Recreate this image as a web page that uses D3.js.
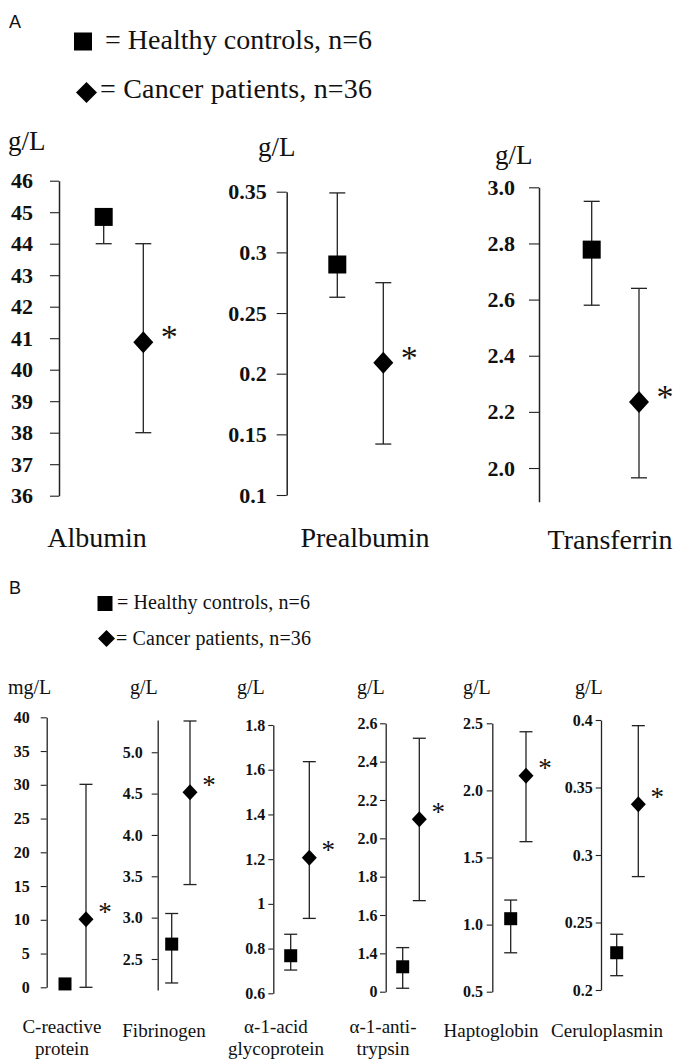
<!DOCTYPE html>
<html>
<head>
<meta charset="utf-8" />
<title>Serum proteins: healthy controls vs cancer patients</title>
<style>
  body { margin: 0; background: #fff; }
  svg text { font-family: "Liberation Serif", "Times New Roman", serif; fill: #111; }
  svg text.letter { font-family: "Liberation Sans", Arial, sans-serif; }
</style>
</head>
<body>
<svg id="fig" width="679" height="1059"></svg>

<script src="https://d3js.org/d3.v7.min.js"></script>
<script>
// ---------- panel A data ----------
var namesA = [["Albumin"], ["Prealbumin"], ["Transferrin"]];
var unitsA = ["g/L", "g/L", "g/L"];
var ctrlMeanA = [44.85, 0.290, 2.778];
var ctrlLowA  = [44.0, 0.263, 2.58];
var ctrlHighA = [45.1, 0.349, 2.95];
var canMeanA  = [40.87, 0.209, 2.235];
var canLowA   = [38.0, 0.142, 1.965];
var canHighA  = [44.0, 0.275, 2.64];
var tickValsA = [
  [36, 37, 38, 39, 40, 41, 42, 43, 44, 45, 46],
  [0.1, 0.15, 0.2, 0.25, 0.3, 0.35],
  [2.0, 2.2, 2.4, 2.6, 2.8, 3.0]
];
var tickLabsA = [
  ["36", "37", "38", "39", "40", "41", "42", "43", "44", "45", "46"],
  ["0.1", "0.15", "0.2", "0.25", "0.3", "0.35"],
  ["2.0", "2.2", "2.4", "2.6", "2.8", "3.0"]
];

// ---------- panel B data ----------
var namesB = [["C-reactive", "protein"], ["Fibrinogen"], ["\u03b1-1-acid", "glycoprotein"],
              ["\u03b1-1-anti-", "trypsin"], ["Haptoglobin"], ["Ceruloplasmin"]];
var unitsB = ["mg/L", "g/L", "g/L", "g/L", "g/L", "g/L"];
var ctrlMeanB = [0.5, 2.68, 0.768, 1.33, 1.044, 0.2276];
var ctrlLowB  = [null, 2.21, 0.704, 1.218, 0.79, 0.2106];
var ctrlHighB = [null, 3.05, 0.864, 1.43, 1.183, 0.2413];
var canMeanB  = [10.1, 4.516, 1.206, 2.099, 2.11, 0.3376];
var canLowB   = [0, 3.40, 0.935, 1.675, 1.618, 0.284];
var canHighB  = [30.07, 5.378, 1.636, 2.522, 2.437, 0.3958];
var tickValsB = [
  [0, 5, 10, 15, 20, 25, 30, 35, 40],
  [2.5, 3.0, 3.5, 4.0, 4.5, 5.0],
  [0.6, 0.8, 1.0, 1.2, 1.4, 1.6, 1.8],
  [1.2, 1.4, 1.6, 1.8, 2.0, 2.2, 2.4, 2.6],
  [0.5, 1.0, 1.5, 2.0, 2.5],
  [0.2, 0.25, 0.3, 0.35, 0.4]
];
var tickLabsB = [
  ["0", "5", "10", "15", "20", "25", "30", "35", "40"],
  ["2.5", "3.0", "3.5", "4.0", "4.5", "5.0"],
  ["0.6", "0.8", "1", "1.2", "1.4", "1.6", "1.8"],
  ["0", "1.4", "1.6", "1.8", "2.0", "2.2", "2.4", "2.6"],
  ["0.5", "1.0", "1.5", "2.0", "2.5"],
  ["0.2", "0.25", "0.3", "0.35", "0.4"]
];

var legendLabels = ["= Healthy controls, n=6", "= Cancer patients, n=36"];

// ---------- layout ----------
var layoutA = [
  {x: 59,    dom: [36, 46],     rng: [495.7, 180.7], tick: 9,  pad: 17, cdx: 44.7, pdx: 84.3, unitX: 8,   unitY: 150, nameX: 97,  nameY: 547},
  {x: 286.7, dom: [0.1, 0.35],  rng: [495, 191.7],   tick: 10, pad: 10, cdx: 50.6, pdx: 96.6, unitX: 258, unitY: 156, nameX: 365, nameY: 547},
  {x: 539,   dom: [1.88, 3.0],  rng: [501.7, 187.3], tick: 10, pad: 14, cdx: 52.7, pdx: 100,  unitX: 495, unitY: 164, nameX: 610, nameY: 549}
];
var layoutB = [
  {x: 46.7,  dom: [0, 40],       rng: [987.3, 717.3], tick: 6,   pad: 11,  cdx: 18.3, pdx: 39.3, unitX: 8,   nameX: 62},
  {x: 157.7, dom: [2.125, 5.39], rng: [990, 720],     tick: 6,   pad: 9,   cdx: 14,   pdx: 32.3, unitX: 130, nameX: 164},
  {x: 273.3, dom: [0.6, 1.8],    rng: [993.3, 725],   tick: 5,   pad: 3,   cdx: 17.4, pdx: 36,   unitX: 237, nameX: 276},
  {x: 385.7, dom: [1.2, 2.6],    rng: [991.7, 723.3], tick: 5.7, pad: 2.5, cdx: 17,   pdx: 33.6, unitX: 357, nameX: 383},
  {x: 492.3, dom: [0.5, 2.5],    rng: [991.7, 723.3], tick: 5.6, pad: 3.7, cdx: 18.4, pdx: 33.7, unitX: 463, nameX: 491},
  {x: 601,   dom: [0.2, 0.4],    rng: [990, 720],     tick: 5.3, pad: 3,   cdx: 15.7, pdx: 37.3, unitX: 575, nameX: 607}
];

var styleA = {sq: 18, dw: 20, dh: 22, cap: 16, tickFont: 22, unitFont: 27, nameFont: 28, star: 34, sdx: 26, sdy: -10, axisW: 1.5};
var styleB = {sq: 13, dw: 15, dh: 16, cap: 13, tickFont: 16, unitFont: 20, nameFont: 19, star: 27, sdx: 19, sdy: -11, axisW: 1.3};

var svg = d3.select("#fig");

function diamond(w, h) {
  return "M0," + (-h / 2) + "L" + (w / 2) + ",0L0," + (h / 2) + "L" + (-w / 2) + ",0Z";
}

function errBar(g, x, y, lo, hi, cap) {
  if (lo == null || hi == null) return;
  g.append("line").attr("x1", x).attr("x2", x).attr("y1", y(lo)).attr("y2", y(hi));
  g.append("line").attr("x1", x - cap / 2).attr("x2", x + cap / 2).attr("y1", y(lo)).attr("y2", y(lo));
  g.append("line").attr("x1", x - cap / 2).attr("x2", x + cap / 2).attr("y1", y(hi)).attr("y2", y(hi));
}

function drawChart(L, st, d) {
  var y = d3.scaleLinear().domain(L.dom).range(L.rng);
  var axis = d3.axisLeft(y)
    .tickValues(d.ticks)
    .tickFormat(function(v, i) { return d.labels[i]; })
    .tickSizeInner(L.tick)
    .tickSizeOuter(0)
    .tickPadding(L.pad);

  var ax = svg.append("g").attr("transform", "translate(" + L.x + ",0)").call(axis);
  ax.select(".domain").attr("stroke", "#222").attr("stroke-width", st.axisW);
  ax.selectAll(".tick line").attr("stroke", "#222").attr("stroke-width", 1.1);
  ax.selectAll(".tick text")
    .attr("fill", "#111")
    .style("font-family", "'Liberation Serif', 'Times New Roman', serif")
    .style("font-weight", "bold")
    .style("font-size", st.tickFont + "px");

  var g = svg.append("g").attr("stroke", "#222").attr("stroke-width", 1.3);
  var cx = L.x + L.cdx, px = L.x + L.pdx;
  errBar(g, cx, y, d.cLo, d.cHi, st.cap);
  errBar(g, px, y, d.pLo, d.pHi, st.cap);

  svg.append("rect")
    .attr("x", cx - st.sq / 2).attr("y", y(d.cMean) - st.sq / 2)
    .attr("width", st.sq).attr("height", st.sq)
    .attr("fill", "#000");
  svg.append("path")
    .attr("transform", "translate(" + px + "," + y(d.pMean) + ")")
    .attr("d", diamond(st.dw, st.dh))
    .attr("fill", "#000");

  // significance mark
  svg.append("text")
    .attr("x", px + st.sdx).attr("y", y(d.pMean) + st.sdy + st.star * 0.47)
    .attr("text-anchor", "middle")
    .style("font-size", st.star + "px")
    .text("*");
}

// stretch a legend line to the width it has in the figure
function fitWidth(sel, w) {
  var node = sel.node();
  var len = node.getComputedTextLength();
  var n = node.textContent.length;
  if (len > 0 && n > 1) sel.style("letter-spacing", ((w - len) / (n - 1)) + "px");
}

// panel letters + legends
function legend(letterY, items, st) {
  svg.append("text").attr("class", "letter")
    .attr("x", 9).attr("y", letterY.letter)
    .style("font-size", st.letter + "px").text(letterY.name);
  svg.append("rect")
    .attr("x", items.sqX - st.sq / 2).attr("y", items.sqY - st.sq / 2)
    .attr("width", st.sq).attr("height", st.sq).attr("fill", "#000");
  var t1 = svg.append("text").attr("x", items.t1X).attr("y", items.t1Y)
    .style("font-size", st.font + "px").text(legendLabels[0]);
  fitWidth(t1, items.w1);
  svg.append("path")
    .attr("transform", "translate(" + items.dX + "," + items.dY + ")")
    .attr("d", diamond(st.d, st.d)).attr("fill", "#000");
  var t2 = svg.append("text").attr("x", items.t2X).attr("y", items.t2Y)
    .style("font-size", st.font + "px").text(legendLabels[1]);
  fitWidth(t2, items.w2);
}

legend({letter: 28, name: "A"},
       {sqX: 83, sqY: 41.5, t1X: 105, t1Y: 49, w1: 267, dX: 86.5, dY: 92.5, t2X: 100, t2Y: 98, w2: 272},
       {letter: 18, sq: 18, d: 21, font: 28});
legend({letter: 594, name: "B"},
       {sqX: 105, sqY: 603.5, t1X: 117, t1Y: 609, w1: 193, dX: 106.5, dY: 638.5, t2X: 116, t2Y: 645, w2: 195},
       {letter: 18, sq: 15, d: 17, font: 20});

// panel A charts
layoutA.forEach(function(L, i) {
  drawChart(L, styleA, {
    ticks: tickValsA[i], labels: tickLabsA[i],
    cMean: ctrlMeanA[i], cLo: ctrlLowA[i], cHi: ctrlHighA[i],
    pMean: canMeanA[i], pLo: canLowA[i], pHi: canHighA[i]
  });
  svg.append("text").attr("x", L.unitX).attr("y", L.unitY)
    .style("font-size", styleA.unitFont + "px").text(unitsA[i]);
  svg.append("text").attr("x", L.nameX).attr("y", L.nameY)
    .attr("text-anchor", "middle")
    .style("font-size", styleA.nameFont + "px").text(namesA[i][0]);
});

// panel B charts
layoutB.forEach(function(L, i) {
  drawChart(L, styleB, {
    ticks: tickValsB[i], labels: tickLabsB[i],
    cMean: ctrlMeanB[i], cLo: ctrlLowB[i], cHi: ctrlHighB[i],
    pMean: canMeanB[i], pLo: canLowB[i], pHi: canHighB[i]
  });
  svg.append("text").attr("x", L.unitX).attr("y", 694)
    .style("font-size", styleB.unitFont + "px").text(unitsB[i]);
  var lines = namesB[i];
  var t = svg.append("text").attr("text-anchor", "middle")
    .style("font-size", styleB.nameFont + "px");
  lines.forEach(function(s, k) {
    t.append("tspan").attr("x", L.nameX)
      .attr("y", lines.length == 1 ? 1037 : 1033 + k * 22)
      .text(s);
  });
});
</script>
</body>
</html>
